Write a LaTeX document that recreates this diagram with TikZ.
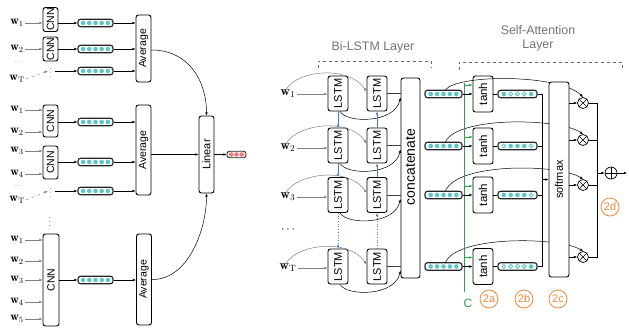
\documentclass[tikz,border=0pt]{standalone}
\usepackage{fontspec}
\setsansfont{Liberation Sans}
\usetikzlibrary{arrows.meta,calc}
\definecolor{tealdot}{HTML}{5CC8C8}
\definecolor{redot}{HTML}{F07A7A}
\definecolor{agreen}{HTML}{2E9E4F}
\definecolor{aorange}{HTML}{F08A3C}
\definecolor{ablue}{HTML}{4A78C8}
\tikzset{
  box/.style={draw=black, line width=0.9pt, rounded corners=2.5pt, fill=white, inner sep=0pt, font=\sffamily},
  vecbox/.style={draw=black!85, line width=1.1pt, rounded corners=2.5pt, fill=white, inner sep=0pt, minimum height=7.5pt, minimum width=#1},
  wl/.style={font=\fontsize{12}{12}\selectfont, inner sep=1.2pt},
  wr/.style={font=\fontsize{13}{13}\selectfont, inner sep=1.5pt},
  arr/.style={-{Latex[length=3.2pt,width=2.6pt]}, line width=0.5pt},
  garr/.style={arr, draw=gray},
  barr/.style={arr, draw=ablue, line width=0.7pt},
  grarr/.style={arr, draw=agreen},
  lab/.style={draw=aorange, text=aorange, circle, line width=0.8pt, minimum size=18pt, inner sep=0pt, font=\sffamily\fontsize{11}{12}\selectfont},
  otimes/.style={draw, circle, line width=0.7pt, minimum size=11pt, inner sep=0pt,
    path picture={\draw[line width=0.6pt] (path picture bounding box.north west) -- (path picture bounding box.south east)
      (path picture bounding box.north east) -- (path picture bounding box.south west);}},
  oplus/.style={draw, circle, line width=0.7pt, minimum size=12pt, inner sep=0pt,
    path picture={\draw[line width=0.6pt] (path picture bounding box.north) -- (path picture bounding box.south)
      (path picture bounding box.east) -- (path picture bounding box.west);}},
  title/.style={text=black!55, font=\sffamily\fontsize{12.4}{14}\selectfont, align=center}
}
\newcommand\dotrow[5]{%
  \foreach \f [count=\i] in {#5} {%
    \ifnum\f=1
      \fill[#3] ($(#1.center)+({(\i-#4)*#2},0)$) circle (2.3pt);
    \else
      \draw[#3, fill=white, line width=0.9pt] ($(#1.center)+({(\i-#4)*#2},0)$) circle (1.95pt);
    \fi}}
\newcommand\rtext[2]{\rotatebox{90}{\fontsize{#1}{#1}\selectfont #2}}
\begin{document}
\begin{tikzpicture}[x=1pt,y=-1pt]
\useasboundingbox (0,0) rectangle (629,330);
% ================= LEFT PANEL =================
% group 1
\node[wl] (a1) at (17,23) {$\mathbf{w}_1$};
\node[wl] (a2) at (17,49) {$\mathbf{w}_2$};
\node[wl] (ad) at (18,62) {\tiny ...};
\node[wl] (aT) at (17,79) {$\mathbf{w}_\mathrm{T}$};
\node[box, minimum width=15pt, minimum height=24pt] (c1) at (50.5,19.5) {\rtext{10.5}{CNN}};
\node[box, minimum width=15pt, minimum height=24pt] (c2) at (50.5,49) {\rtext{10.5}{CNN}};
\node[inner sep=0pt, font=\fontsize{6}{6}\selectfont] (d1) at (51,70) {$\vdots$};
\node[vecbox=35pt] (v1) at (95.5,23) {};
\node[vecbox=35pt] (v2) at (95.5,49) {};
\node[vecbox=35pt] (v3) at (95.5,71) {};
\node[box, minimum width=15pt, minimum height=67pt] (g1) at (143.5,48.5) {\rtext{10.5}{Average}};
\draw[garr] (a1.east) -- (a1.east -| c1.west);
\draw[garr] (a2.east) -- (a2.east -| c2.west);
\draw[garr, dashed, line width=0.4pt] (aT.east) -- ($(d1.west)+(-2,1)$);
\draw[arr] (c1.east |- v1) -- (v1.west);
\draw[arr] (c2.east |- v2) -- (v2.west);
\draw[arr] ($(d1.east)+(3,1)$) -- (v3.west);
\draw[arr] (v1.east) -- (v1.east -| g1.west);
\draw[arr] (v2.east) -- (v2.east -| g1.west);
\draw[arr] (v3.east) -- (v3.east -| g1.west);
% group 2
\node[wl] (b1) at (17,110) {$\mathbf{w}_1$};
\node[wl] (b2) at (17,132) {$\mathbf{w}_2$};
\node[wl] (b3) at (17,151) {$\mathbf{w}_3$};
\node[wl] (b4) at (17,174) {$\mathbf{w}_4$};
\node[wl] (bd) at (18,186) {\tiny ...};
\node[wl] (bT) at (17,200) {$\mathbf{w}_\mathrm{T}$};
\node[box, minimum width=15pt, minimum height=32pt] (c3) at (50.5,121) {\rtext{10.5}{CNN}};
\node[box, minimum width=15pt, minimum height=33pt] (c4) at (50.5,162.5) {\rtext{10.5}{CNN}};
\node[inner sep=0pt, font=\fontsize{6}{6}\selectfont] (d2) at (51,190) {$\vdots$};
\node[vecbox=35pt] (v4) at (95.5,122) {};
\node[vecbox=35pt] (v5) at (95.5,162) {};
\node[vecbox=35pt] (v6) at (95.5,191) {};
\node[box, minimum width=15pt, minimum height=90pt] (g2) at (143.5,150) {\rtext{10.5}{Average}};
\draw[garr] (b1.east) -- (b1.east -| c3.west);
\draw[garr] (b2.east) -- (b2.east -| c3.west);
\draw[garr] (b3.east) -- (b3.east -| c4.west);
\draw[garr] (b4.east) -- (b4.east -| c4.west);
\draw[garr, dashed, line width=0.4pt] (bT.east) -- ($(d2.west)+(-2,1)$);
\draw[arr] (c3.east |- v4) -- (v4.west);
\draw[arr] (c4.east |- v5) -- (v5.west);
\draw[arr] ($(d2.east)+(3,1)$) -- (v6.west);
\draw[arr] (v4.east) -- (v4.east -| g2.west);
\draw[arr] (v5.east) -- (v5.east -| g2.west);
\draw[arr] (v6.east) -- (v6.east -| g2.west);
% group 3
\node[inner sep=0pt, font=\fontsize{9}{9}\selectfont] (d3) at (50,219) {$\vdots$};
\node[wl] (e1) at (17,240) {$\mathbf{w}_1$};
\node[wl] (e2) at (17,261) {$\mathbf{w}_2$};
\node[wl] (e3) at (17,280) {$\mathbf{w}_3$};
\node[wl] (e4) at (17,302) {$\mathbf{w}_4$};
\node[wl] (e5) at (17,319) {$\mathbf{w}_5$};
\node[box, minimum width=16pt, minimum height=92pt] (c5) at (51,280) {\rtext{10.5}{CNN}};
\node[vecbox=35pt] (v7) at (95.5,280) {};
\node[box, minimum width=15pt, minimum height=91pt] (g3) at (144,279.5) {\rtext{10.5}{Average}};
\foreach \e in {e1,e2,e3,e4,e5} \draw[garr] (\e.east) -- (\e.east -| c5.west);
\draw[arr] (c5.east |- v7) -- (v7.west);
\draw[arr] (v7.east) -- (v7.east -| g3.west);
% linear
\node[box, minimum width=15pt, minimum height=77pt] (lin) at (206.5,154.5) {\rtext{11}{Linear}};
\node[vecbox=19pt, minimum height=6.5pt, line width=0.9pt] (ov) at (236.5,154.5) {};
\draw[arr] ($(g1.east)+(0,1.5)$) .. controls (188,50) and (206.5,80) .. (lin.north);
\draw[arr] (g2.east |- lin.west) -- (lin.west);
\draw[arr] (g3.east) .. controls (188,280) and (206.5,230) .. (lin.south);
\draw[arr] (lin.east) -- (ov.west);
\foreach \v in {v1,v2,v3,v4,v5,v6,v7} {\dotrow{\v}{6.2}{tealdot}{3}{1,1,1,1,1}}
\dotrow{ov}{5.2}{redot}{2}{1,1,1}
% ================= RIGHT PANEL =================
\node[title] (tbl) at (373,47) {Bi-LSTM Layer};
\node[title] (tsa) at (538,38) {Self-Attention\\Layer};
\draw[dashed, black!60, line width=0.6pt] (318,68) -- (318,61) -- (431,61) -- (431,68);
\draw[dashed, black!60, line width=0.6pt] (459,70) -- (459,62) -- (622,62) -- (622,70);
% word labels
\node[wr] (r1) at (288,94) {$\mathbf{w}_1$};
\node[wr] (r2) at (288,148) {$\mathbf{w}_2$};
\node[wr] (r3) at (288,197) {$\mathbf{w}_3$};
\node[wr] (rd) at (288,230) {$\cdots$};
\node[wr] (r4) at (288,268) {$\mathbf{w}_\mathrm{T}$};
% LSTM
\foreach \r/\y in {1/93.5,2/145.5,3/195,4/266.5} {
  \node[box, minimum width=20pt, minimum height=35pt] (l\r1) at (338,\y) {\rtext{11}{LSTM}};
  \node[box, minimum width=20pt, minimum height=35pt] (l\r2) at (377,\y) {\rtext{11}{LSTM}};
}
\node[box, minimum width=19pt, minimum height=200pt] (cc) at (410.5,178) {\rtext{14}{\hspace{22pt}concatenate}};
\foreach \r in {1,2,3,4} {
  \draw[garr] (r\r.east) -- (r\r.east -| l\r1.west);
  \draw[garr] ($(r\r.north)+(-2,1)$) .. controls +(12,-20) and +(-17,-26) .. ($(l\r2.west)+(0,-2)$);
  \draw[arr] ($(l\r1.south)+(2,0)$) .. controls +(7,12) and +(-6,26) .. ($(cc.west |- l\r1)+(0,4)$);
  \draw[line width=0.7pt, black!75] (l\r2.east) -- (l\r2.east -| cc.west);
}
\draw[barr] (l11.south) -- (l21.north);
\draw[barr] (l21.south) -- (l31.north);
\draw[barr] (l22.north) -- (l12.south);
\draw[barr] (l32.north) -- (l22.south);
\draw[barr, dotted, line width=1pt] (l31.south) -- (l41.north);
\draw[barr, dotted, line width=1pt] (l42.north) -- (l32.south);
% concat outputs, otimes
\foreach \r/\y/\xy in {1/94/103,2/146/140,3/195/185,4/266.5/257} {
  \node[vecbox=37pt] (u\r) at (443.5,\y) {};
  \node[otimes] (x\r) at (583,\xy) {};
}
\node[oplus] (pl) at (611,173) {};
% arcs (behind tanh and softmax)
\draw[arr] ($(u2.north)+(2,0)$) .. controls (458,116) and (560,118) .. (x2.north);
\draw[arr] ($(u3.north)+(2,0)$) .. controls (458,162) and (560,164) .. (x3.north);
\draw[arr] ($(u4.north)+(2,0)$) .. controls (458,235) and (560,237) .. (x4.north);
% green context line
\coordinate (ctop) at (464,83);
\coordinate (cbot) at (464,292);
\draw[agreen, line width=1pt] (ctop) -- (cbot);
\node[text=agreen, font=\sffamily\fontsize{12}{12}\selectfont] (clab) at (468,303) {C};
% tanh and attention vectors
\foreach \r/\y in {1/94,2/146,3/195,4/266.5} {
  \node[box, minimum width=20pt, minimum height=36pt] (t\r) at (483,\y) {\rtext{11.5}{tanh}};
  \node[vecbox=39pt] (s\r) at (517.5,\y) {};
  \draw[arr] (u\r.east) -- (u\r.east -| t\r.west);
  \draw[grarr] ($(t\r.west)+(-9,-9)$) -- ($(t\r.west)+(0,-9)$);
  \draw[line width=0.6pt] (t\r.east) -- (s\r.west);
}
\draw[arr] ($(u1.north)+(2,0)$) .. controls (458,74) and (560,74) .. (x1.north);
\foreach \u in {u1,u2,u3,u4} {\dotrow{\u}{6.4}{tealdot}{3}{1,1,1,1,1}}
\dotrow{s1}{6.8}{tealdot}{3}{1,0,0,0,1}
\dotrow{s2}{6.8}{tealdot}{3}{0,1,1,1,0}
\dotrow{s3}{6.8}{tealdot}{3}{1,1,1,1,0}
\dotrow{s4}{6.8}{tealdot}{3}{0,0,0,0,1}
% softmax
\node[box, minimum width=20pt, minimum height=195pt] (sm) at (559,179.5) {\rtext{11}{softmax}};
\coordinate (bx) at ($(s1.east)+(5,0)$);
\draw[line width=0.6pt] (s1.east) -- (bx) -- (bx |- s4.east) -- (s4.east);
\draw[line width=0.6pt] (s2.east) -- (s2.east -| bx);
\draw[line width=0.6pt] (s3.east) -- (s3.east -| bx);
\draw[arr] (bx |- sm.west) -- (sm.west);
\foreach \r in {1,2,3,4} \draw[arr] (sm.east |- x\r) -- (x\r.west);
\coordinate (ob) at (597,173);
\coordinate (oend) at (627,173);
\draw[line width=0.6pt] (x1.east) -| (ob);
\draw[line width=0.6pt] (x4.east) -| (ob);
\draw[line width=0.6pt] (x2.east) -- (x2.east -| ob);
\draw[line width=0.6pt] (x3.east) -- (x3.east -| ob);
\draw[arr] (ob) -- (pl.west);
\draw[arr] (pl.east) -- (oend);
% step labels
\node[lab] (s2a) at (489,299) {2a};
\node[lab] (s2b) at (524,299) {2b};
\node[lab] (s2c) at (558,299) {2c};
\node[lab] (s2d) at (610,207) {2d};
\end{tikzpicture}
\end{document}
